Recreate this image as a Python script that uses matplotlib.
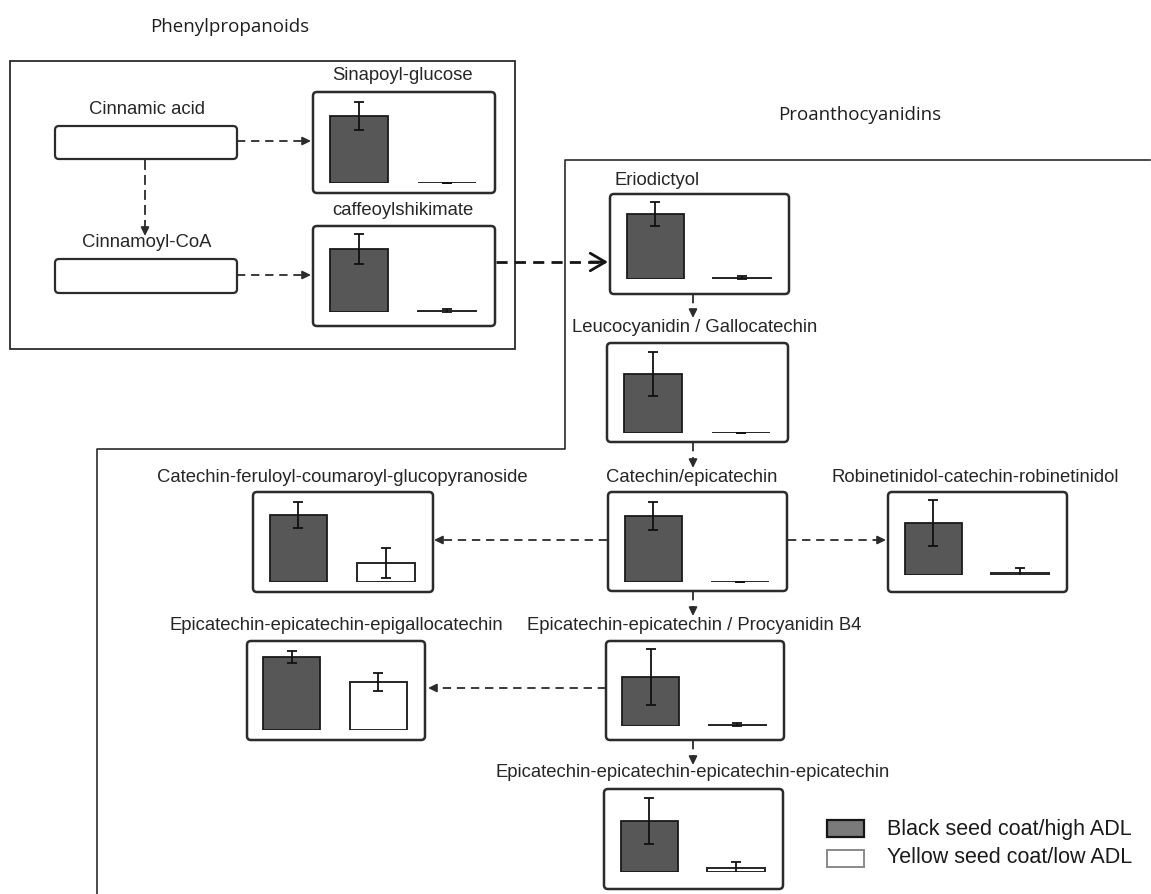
import matplotlib
matplotlib.use("Agg")
import matplotlib.pyplot as plt
from matplotlib.patches import FancyBboxPatch, Rectangle

# ---------------------------------------------------------------------------
# Relative metabolite abundance (mean and SD) for the two seed-coat groups
# ---------------------------------------------------------------------------
compounds = [
    "Sinapoyl-glucose",
    "caffeoylshikimate",
    "Eriodictyol",
    "Leucocyanidin / Gallocatechin",
    "Catechin/epicatechin",
    "Catechin-feruloyl-coumaroyl-glucopyranoside",
    "Robinetinidol-catechin-robinetinidol",
    "Epicatechin-epicatechin / Procyanidin B4",
    "Epicatechin-epicatechin-epigallocatechin",
    "Epicatechin-epicatechin-epicatechin-epicatechin",
]
black_mean = [73.6, 73.3, 76.5, 65.6, 73.3, 74.4, 62.7, 57.6, 82.0, 61.4]
black_sd = [15.4, 17.4, 14.0, 24.4, 15.6, 14.4, 27.7, 33.0, 6.7, 27.7]
yellow_mean = [0.4, 1.5, 1.5, 0.4, 0.4, 21.1, 2.4, 1.5, 53.9, 4.8]
yellow_sd = [0.0, 2.5, 1.5, 0.0, 0.0, 16.7, 6.0, 1.5, 10.0, 7.0]

group_labels = ["Black seed coat/high ADL", "Yellow seed coat/low ADL"]
precursors = ["Cinnamic acid", "Cinnamoyl-CoA"]
section_titles = ["Phenylpropanoids", "Proanthocyanidins"]

# ---------------------------------------------------------------------------
# Page layout (pixel coordinates, y downwards)
# panel frame: left, top, right, bottom, baseline ; title centre x, y
# ---------------------------------------------------------------------------
W, H, DPI = 1151, 895, 100
panel_frames = [
    (313, 93, 495, 194, 184),
    (313, 227, 495, 327, 313),
    (610, 195, 789, 295, 280),
    (607, 344, 788, 443, 434),
    (608, 493, 787, 592, 583),
    (253, 493, 433, 593, 583),
    (888, 493, 1067, 593, 576),
    (606, 642, 784, 741, 727),
    (247, 642, 425, 741, 731),
    (604, 790, 783, 890, 873),
]
title_pos = [
    (403, 75), (403, 210), (657, 180), (695, 327), (692, 478),
    (342, 478), (975, 478), (694, 626), (336, 626), (693, 773),
]
precursor_boxes = [(55, 127, 237, 160), (55, 260, 237, 294)]
precursor_title_pos = [(147, 109), (147, 242)]

LINE = "#2b2b2b"
TEXT = "#262626"
BLACK_FILL = "#575757"
FONT = "Liberation Sans"

fig = plt.figure(figsize=(W / DPI, H / DPI), dpi=DPI)
fig.patch.set_facecolor("white")
ax = fig.add_axes([0, 0, 1, 1])
ax.set_xlim(0, W)
ax.set_ylim(H, 0)
ax.axis("off")


def rounded_box(l, t, r, b, lw=1.5, rad=4):
    ax.add_patch(FancyBboxPatch((l, t), r - l, b - t,
                                boxstyle=f"round,pad=0,rounding_size={rad}",
                                fc="white", ec=LINE, lw=lw, zorder=2))


def dashed_arrow(x0, y0, x1, y1, lw=1.3, dashes=(4.6, 3.2), head=8):
    """Dashed shaft with a small filled arrow head at (x1, y1)."""
    dx, dy = x1 - x0, y1 - y0
    n = (dx * dx + dy * dy) ** 0.5
    ux, uy = dx / n, dy / n
    ax.plot([x0, x1 - ux * head * 0.6], [y0, y1 - uy * head * 0.6],
            color=LINE, lw=lw, dashes=dashes, solid_capstyle="butt", zorder=3)
    ax.annotate("", xy=(x1, y1), xytext=(x1 - ux * head, y1 - uy * head),
                arrowprops=dict(arrowstyle="-|>,head_length=0.45,head_width=0.22",
                                color=LINE, lw=lw, mutation_scale=11,
                                shrinkA=0, shrinkB=0), zorder=4)


# Section headers
ax.text(230, 27, section_titles[0], ha="center", va="center",
        fontsize=13.5, family="Open Sans", color="#1e1e1e")
ax.text(860, 115, section_titles[1], ha="center", va="center",
        fontsize=13.5, family="Open Sans", color="#1e1e1e")

# Phenylpropanoid frame
ax.add_patch(Rectangle((10, 62), 505, 288, fc="none", ec=LINE, lw=1.3, zorder=1))
# Proanthocyanidin outline
ax.plot([1150, 565, 565, 97, 97], [161, 161, 450, 450, 895],
        color=LINE, lw=1.2, zorder=1)

# Precursor boxes
for (l, t, r, b), (tx, ty), name in zip(precursor_boxes, precursor_title_pos, precursors):
    rounded_box(l, t, r, b, lw=1.6, rad=4)
    ax.text(tx, ty, name, ha="center", va="center", fontsize=13.3,
            family=FONT, color=TEXT, zorder=3)

# Pathway arrows
dashed_arrow(237, 142, 311, 142)
dashed_arrow(145, 161, 145, 237, dashes=(5.5, 2.8))
dashed_arrow(237, 276, 311, 276)
dashed_arrow(693, 296, 693, 319)
dashed_arrow(693, 444, 693, 469)
dashed_arrow(607, 541, 434, 541)
dashed_arrow(788, 541, 886, 541)
dashed_arrow(693, 593, 693, 617)
dashed_arrow(606, 689, 428, 689)
dashed_arrow(693, 742, 693, 766)

# Main flux arrow into the proanthocyanidin branch
ax.plot([496, 604], [263, 263], color="#151515", lw=2.0, dashes=(4.0, 2.6), zorder=3)
ax.annotate("", xy=(608, 263), xytext=(590, 263),
            arrowprops=dict(arrowstyle="->,head_length=0.6,head_width=0.35",
                            color="#151515", lw=2.0, mutation_scale=18,
                            shrinkA=0, shrinkB=0), zorder=4)

# Metabolite panels
for i, name in enumerate(compounds):
    l, t, r, b, base = panel_frames[i]
    rounded_box(l, t, r, b, lw=1.8, rad=4)
    tx, ty = title_pos[i]
    ax.text(tx, ty, name, ha="center", va="center", fontsize=13.3,
            family=FONT, color=TEXT, zorder=3)

    pax = fig.add_axes([l / W, 1 - base / H, (r - l) / W, (base - t) / H])
    pax.set_xlim(-0.52, 1.54)
    pax.set_ylim(0, 100)
    pax.axis("off")
    pax.patch.set_alpha(0)
    pax.bar([0], [black_mean[i]], width=0.66, color=BLACK_FILL,
            edgecolor="#1a1a1a", lw=1.3, zorder=2)
    pax.bar([1], [yellow_mean[i]], width=0.66, color="white",
            edgecolor="#262626", lw=1.4, zorder=2)
    pax.errorbar([0, 1], [black_mean[i], yellow_mean[i]],
                 yerr=[black_sd[i], yellow_sd[i]], fmt="none",
                 ecolor="#111111", elinewidth=1.3, capsize=3.8,
                 capthick=1.3, zorder=3)

# Legend
ax.add_patch(Rectangle((827, 821), 37, 17, fc="#7a7a7a", ec="#151515", lw=1.6, zorder=2))
ax.add_patch(Rectangle((827, 851), 37, 17, fc="white", ec="#8a8a8a", lw=1.4, zorder=2))
ax.text(887, 830, group_labels[0], ha="left", va="center", fontsize=15.5,
        family=FONT, color="#1a1a1a")
ax.text(887, 858, group_labels[1], ha="left", va="center", fontsize=15.5,
        family=FONT, color="#1a1a1a")

fig.savefig("out.png", dpi=DPI, facecolor="white")
